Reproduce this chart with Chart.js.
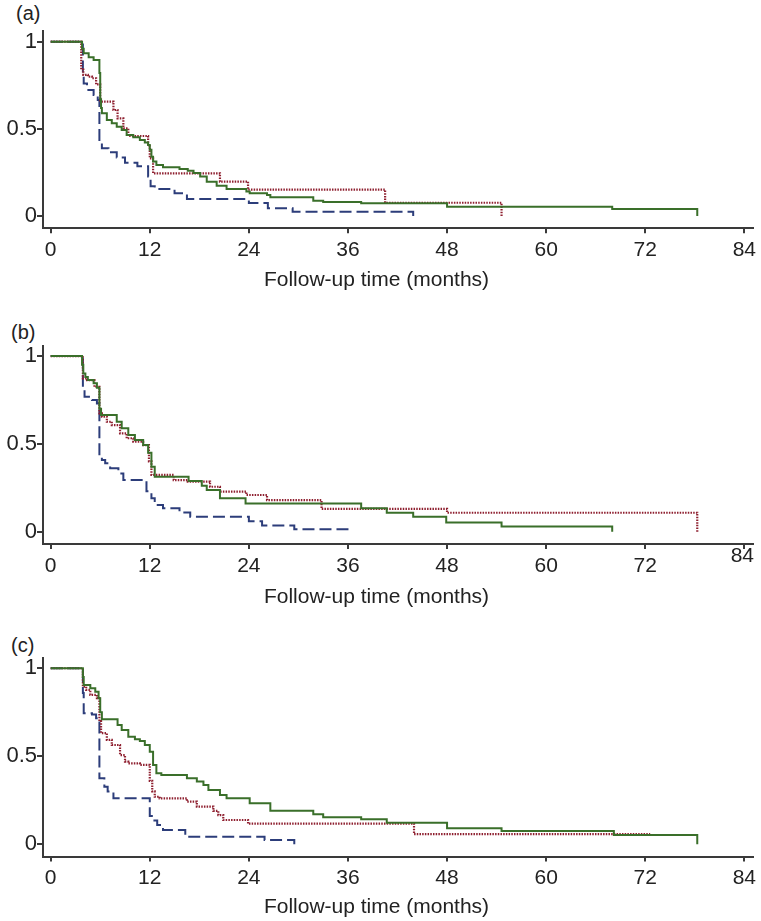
<!DOCTYPE html>
<html>
<head>
<meta charset="utf-8">
<script src="https://cdn.jsdelivr.net/npm/chart.js@4.4.0/dist/chart.umd.min.js"></script>
<style>
  body {
    margin: 0;
    width: 761px;
    height: 921px;
    position: relative;
    overflow: hidden;
    background: #fff;
    font-family: "Liberation Sans", Arial, sans-serif;
  }
  canvas {
    position: absolute;
    left: 0;
  }
  .tag {
    position: absolute;
    font-size: 20px;
    line-height: 20px;
    color: #222;
  }
</style>
</head>
<body>
<div class="tag" style="left: 16px; top: 3px">(a)</div>
<div class="tag" style="left: 11px; top: 322px">(b)</div>
<div class="tag" style="left: 11px; top: 635px">(c)</div>
<canvas id="panelA" width="761" height="305" style="top: 0"></canvas>
<canvas id="panelB" width="761" height="305" style="top: 305px"></canvas>
<canvas id="panelC" width="761" height="311" style="top: 610px"></canvas>
<script>
// tick labels
const xTicks = [0, 12, 24, 36, 48, 60, 72, 84];
const yTicks = [0, 0.5, 1];
const xTitle = "Follow-up time (months)";

// survival steps: [month, proportion]; order green, red, blue
// (a)
const greenA = [
  [0, 1], [3.8, 0.96], [4.0, 0.933], [4.6, 0.91], [5.2, 0.895], [5.9, 0.82],
  [6.0, 0.67], [6.1, 0.62], [6.2, 0.59], [6.8, 0.55], [7.4, 0.532], [8.0, 0.512],
  [8.6, 0.493], [9.2, 0.465], [10.0, 0.452], [10.8, 0.436], [11.4, 0.421],
  [11.8, 0.407], [12.0, 0.38], [12.2, 0.34], [12.4, 0.312], [12.8, 0.293],
  [13.6, 0.28], [15.6, 0.27], [16.6, 0.26], [17.3, 0.246], [18.1, 0.226],
  [18.9, 0.197], [20.1, 0.174], [21.3, 0.155], [23.7, 0.141], [24.1, 0.13],
  [26.2, 0.12], [26.6, 0.108], [31.8, 0.088], [33.0, 0.08], [37.6, 0.073],
  [48.0, 0.053], [68.0, 0.04], [78.3, 0],
];
const redA = [
  [0, 1], [3.7, 0.84], [3.95, 0.81], [4.5, 0.8], [5.0, 0.79], [5.5, 0.755],
  [6.0, 0.656], [7.6, 0.608], [8.1, 0.56], [8.8, 0.503], [9.4, 0.459],
  [11.8, 0.4], [12.0, 0.33], [12.4, 0.245], [20.5, 0.197], [23.9, 0.151],
  [40.5, 0.076], [54.6, 0],
];
const blueA = [
  [0, 1], [3.9, 0.8], [4.0, 0.76], [4.4, 0.723], [5.2, 0.694], [5.7, 0.666],
  [5.9, 0.42], [6.2, 0.389], [7.0, 0.365], [8.0, 0.335], [9.0, 0.305],
  [10.5, 0.285], [11.8, 0.226], [12.1, 0.17], [12.6, 0.155], [15.0, 0.13],
  [16.5, 0.097], [24.0, 0.075], [26.3, 0.044], [29.3, 0.024], [43.9, 0],
];
// (b)
const greenB = [
  [0, 1], [3.8, 0.95], [3.95, 0.9], [4.2, 0.88], [4.5, 0.863], [5.2, 0.845],
  [5.6, 0.82], [5.9, 0.7], [6.1, 0.664], [8.0, 0.626], [8.6, 0.589], [9.4, 0.55],
  [10.2, 0.522], [11.2, 0.493], [11.8, 0.45], [12.2, 0.37], [12.6, 0.313],
  [16.7, 0.289], [18.3, 0.262], [18.9, 0.237], [20.5, 0.19], [23.6, 0.16],
  [37.6, 0.133], [40.7, 0.108], [43.9, 0.085], [47.9, 0.053], [54.6, 0.029],
  [68.0, 0],
];
const redB = [
  [0, 1], [3.9, 0.873], [4.4, 0.863], [5.3, 0.825], [5.9, 0.674], [6.2, 0.655],
  [6.8, 0.626], [7.4, 0.607], [8.4, 0.56], [9.2, 0.532], [10.0, 0.512],
  [11.2, 0.493], [11.9, 0.4], [12.2, 0.323], [14.9, 0.294], [16.6, 0.285],
  [19.3, 0.256], [20.5, 0.228], [23.7, 0.209], [26.2, 0.18], [32.8, 0.13],
  [48.0, 0.108], [78.3, 0],
];
const blueB = [
  [0, 1], [3.9, 0.8], [4.1, 0.768], [5.0, 0.75], [5.6, 0.73], [5.9, 0.427],
  [6.2, 0.408], [6.6, 0.389], [7.2, 0.361], [8.2, 0.332], [8.8, 0.294],
  [11.6, 0.23], [12.2, 0.19], [12.6, 0.152], [13.6, 0.133], [15.6, 0.11],
  [16.9, 0.085], [24.0, 0.06], [25.6, 0.036], [29.5, 0.014], [36.1, 0.014],
];
// (c)
const greenC = [
  [0, 1], [3.9, 0.95], [4.0, 0.905], [4.8, 0.886], [5.4, 0.867], [5.8, 0.83],
  [6.0, 0.75], [6.2, 0.71], [8.1, 0.678], [8.6, 0.649], [9.4, 0.611],
  [10.2, 0.597], [10.8, 0.587], [11.4, 0.564], [12.0, 0.526], [12.4, 0.45],
  [12.8, 0.403], [13.4, 0.394], [16.5, 0.375], [17.7, 0.356], [18.5, 0.337],
  [19.1, 0.309], [20.5, 0.28], [21.3, 0.261], [24.1, 0.233], [26.6, 0.19],
  [31.8, 0.17], [33.0, 0.153], [37.6, 0.142], [40.7, 0.123], [48.0, 0.091],
  [54.6, 0.076], [68.2, 0.053], [78.3, 0],
];
const redC = [
  [0, 1], [3.9, 0.895], [4.3, 0.877], [4.8, 0.849], [5.6, 0.83], [5.9, 0.7],
  [6.1, 0.631], [6.8, 0.593], [7.4, 0.564], [8.4, 0.507], [9.0, 0.47],
  [9.4, 0.46], [10.8, 0.451], [12.0, 0.36], [12.3, 0.3], [12.6, 0.27],
  [13.2, 0.261], [16.5, 0.242], [17.7, 0.214], [19.7, 0.19], [20.3, 0.166],
  [20.9, 0.138], [23.9, 0.117], [44.0, 0.058], [72.6, 0.058],
];
const blueC = [
  [0, 1], [3.9, 0.86], [4.0, 0.744], [5.0, 0.737], [5.5, 0.716], [5.9, 0.375],
  [6.5, 0.327], [6.9, 0.3], [7.6, 0.261], [12.0, 0.16], [12.4, 0.135],
  [12.9, 0.11], [13.6, 0.081], [16.3, 0.043], [25.9, 0.025], [29.5, 0],
];

const TEXT = "#222";
const AXIS = "#3a3a3a";
const FONT = '"Liberation Sans", Arial, sans-serif';

const lineStyles = [
  { color: "#3a6f2a", width: 2, dash: [] }, // solid
  { color: "#8e1f2f", width: 2.2, dash: [1.5, 1.2] }, // dotted
  { color: "#2c3d7a", width: 2, dash: [12, 5] }, // dashed
];

Chart.defaults.font.family = FONT;

// one tick label drawn by hand where the figure has it out of line
const looseLabel = {
  id: "looseLabel",
  afterDraw(chart, args, opts) {
    if (!opts.text) return;
    const x = chart.scales.x;
    const ctx = chart.ctx;
    ctx.save();
    ctx.font = "21px " + FONT;
    ctx.fillStyle = TEXT;
    ctx.textAlign = "center";
    ctx.textBaseline = "middle";
    ctx.fillText(opts.text, x.getPixelForValue(opts.value) + opts.dx, x.top + opts.dy);
    ctx.restore();
  },
};

function drawPanel(id, curves, box, loose) {
  return new Chart(document.getElementById(id), {
    type: "line",
    data: {
      datasets: curves.map((c, i) => ({
        data: c.map((p) => ({ x: p[0], y: p[1] })),
        stepped: true,
        borderColor: lineStyles[i].color,
        borderWidth: lineStyles[i].width,
        borderDash: lineStyles[i].dash,
        borderJoinStyle: "miter",
        pointRadius: 0,
        fill: false,
      })),
    },
    options: {
      responsive: false,
      animation: false,
      events: [],
      layout: {
        padding: { left: 0, right: 8, top: box.top, bottom: box.bottom },
      },
      scales: {
        x: {
          type: "linear",
          min: -0.93,
          max: 85.05,
          afterBuildTicks: (s) => {
            s.ticks = xTicks.map((v) => ({ value: v }));
          },
          afterFit: (s) => {
            s.height = box.xHeight;
          },
          ticks: {
            callback: (v) => (loose && v === loose.value ? "" : String(v)),
            font: { size: 21 },
            color: TEXT,
            padding: 4.4,
            maxRotation: 0,
            autoSkip: false,
          },
          grid: {
            drawOnChartArea: false,
            tickLength: 5,
            color: AXIS,
            lineWidth: 2,
          },
          border: { color: AXIS, width: 2 },
        },
        y: {
          min: -0.07,
          max: 1.06,
          afterBuildTicks: (s) => {
            s.ticks = yTicks.map((v) => ({ value: v }));
          },
          afterFit: (s) => {
            s.width = 43;
          },
          ticks: {
            callback: (v) => String(v),
            font: { size: 22 },
            color: TEXT,
            padding: 0,
          },
          grid: {
            drawOnChartArea: false,
            tickLength: 6,
            color: AXIS,
            lineWidth: 2,
          },
          border: { color: AXIS, width: 2 },
        },
      },
      plugins: {
        legend: { display: false },
        tooltip: { enabled: false },
        title: {
          display: true,
          position: "bottom",
          text: xTitle,
          font: { size: 21, weight: "normal" },
          color: TEXT,
          padding: 0,
        },
        looseLabel: loose || {},
      },
    },
    plugins: [looseLabel],
  });
}

drawPanel("panelA", [greenA, redA, blueA], { top: 31.2, bottom: 11.9, xHeight: 39.7 });
drawPanel("panelB", [greenB, redB, blueB], { top: 40.5, bottom: 0, xHeight: 40.8 },
  { text: "84", value: 84, dx: -2, dy: 12.7 });
drawPanel("panelC", [greenC, redC, blueC], { top: 47.7, bottom: 0.9, xHeight: 38.3 });
</script>
</body>
</html>
